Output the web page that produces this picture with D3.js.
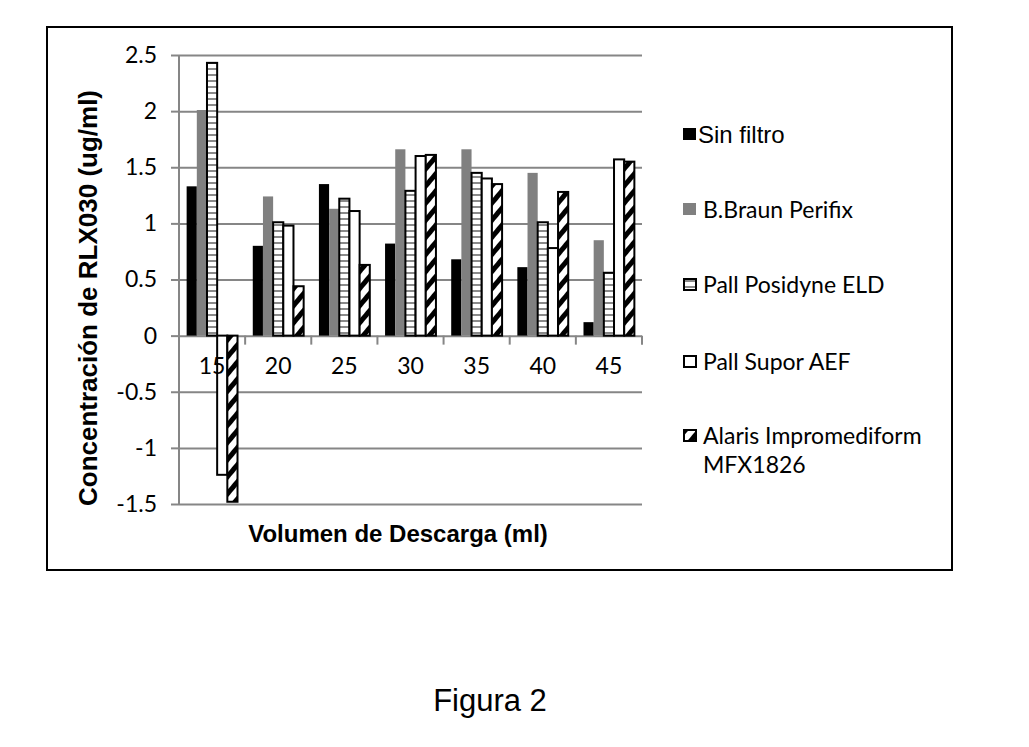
<!DOCTYPE html>
<html>
<head>
<meta charset="utf-8">
<script src="https://cdn.jsdelivr.net/npm/d3@7"></script>
<style>
  body { margin: 0; background: #fff; }
  svg { display: block; }
  .tick text { font-family: Lato, "Open Sans", sans-serif; font-size: 23px; fill: #000; }
  .grid line { stroke: #868686; stroke-width: 2; }
  .grid path { display: none; }
  .y.axis line, .x.ticks line { stroke: #868686; stroke-width: 2; }
  .y.axis path, .x.axis path { display: none; }
  .title { font-family: "Liberation Sans", Arial, sans-serif; font-weight: bold; fill: #000; }
  .legend text { font-family: Lato, "Open Sans", sans-serif; font-size: 23px; fill: #000; }
</style>
</head>
<body>
<svg id="chart" width="1029" height="747"></svg>
<script>
  // data
  const volumes = ['15', '20', '25', '30', '35', '40', '45'];
  const seriesNames = ['Sin filtro', 'B.Braun Perifix', 'Pall Posidyne ELD', 'Pall Supor AEF', 'Alaris Impromediform MFX1826'];
  const sinFiltro = [1.33, 0.80, 1.35, 0.82, 0.68, 0.61, 0.12];
  const bBraun = [2.01, 1.24, 1.13, 1.66, 1.66, 1.45, 0.85];
  const pallPosidyne = [2.43, 1.01, 1.22, 1.29, 1.45, 1.01, 0.56];
  const pallSupor = [-1.24, 0.98, 1.11, 1.60, 1.40, 0.78, 1.57];
  const alaris = [-1.48, 0.44, 0.63, 1.61, 1.35, 1.28, 1.55];
  const yTicks = [2.5, 2, 1.5, 1, 0.5, 0, -0.5, -1, -1.5];

  const values = [sinFiltro, bBraun, pallPosidyne, pallSupor, alaris];
  const svg = d3.select('#chart');

  // patterns
  const defs = svg.append('defs');
  const hp = defs.append('pattern').attr('id', 'hstripe')
      .attr('patternUnits', 'userSpaceOnUse').attr('width', 6).attr('height', 6);
  hp.append('rect').attr('width', 6).attr('height', 6).attr('fill', '#fff');
  hp.append('rect').attr('y', 2).attr('width', 6).attr('height', 2).attr('fill', '#8a8a8a');

  const dp = defs.append('pattern').attr('id', 'dstripe')
      .attr('patternUnits', 'userSpaceOnUse').attr('width', 11).attr('height', 11)
      .attr('patternTransform', 'rotate(40)');
  dp.append('rect').attr('width', 11).attr('height', 11).attr('fill', '#fff');
  dp.append('rect').attr('width', 5).attr('height', 11).attr('fill', '#000');

  const styles = [
    {fill: '#000', stroke: 'none'},
    {fill: '#808080', stroke: 'none'},
    {fill: 'url(#hstripe)', stroke: '#000'},
    {fill: '#fff', stroke: '#000'},
    {fill: 'url(#dstripe)', stroke: '#000'}
  ];

  // outer frame
  svg.append('rect').attr('x', 47).attr('y', 27).attr('width', 905).attr('height', 543)
      .attr('fill', 'none').attr('stroke', '#000').attr('stroke-width', 2);

  const plot = {left: 179, right: 642, top: 55, bottom: 504};

  const x0 = d3.scaleBand().domain(volumes).range([plot.left, plot.right]).padding(0);
  const bw = x0.bandwidth();
  const x1 = d3.scaleBand().domain(d3.range(seriesNames.length))
      .range([bw * 0.75 / 6.5, bw * 5.75 / 6.5]).padding(0);
  const y = d3.scaleLinear().domain([-1.5, 2.5]).range([plot.bottom, plot.top]);

  // gridlines
  svg.append('g').attr('class', 'grid')
      .attr('transform', 'translate(' + plot.left + ',0)')
      .call(d3.axisRight(y).tickValues(yTicks).tickSize(plot.right - plot.left).tickFormat(''));

  // y axis
  svg.append('g').attr('class', 'y axis')
      .attr('transform', 'translate(' + plot.left + ',0)')
      .call(d3.axisLeft(y).tickValues(yTicks).tickSize(8).tickPadding(14).tickFormat(d => String(d)));
  svg.append('line').attr('x1', plot.left).attr('x2', plot.left)
      .attr('y1', plot.top).attr('y2', plot.bottom)
      .attr('stroke', '#868686').attr('stroke-width', 2);

  // x axis tick marks between categories
  const bounds = volumes.map(v => x0(v)).concat([x0.range()[1]]);
  svg.append('g').attr('class', 'x ticks')
      .selectAll('line').data(bounds).join('line')
      .attr('x1', d => d).attr('x2', d => d)
      .attr('y1', y(0)).attr('y2', y(0) + 9);

  // bars
  const groups = svg.append('g').selectAll('g').data(volumes).join('g')
      .attr('transform', d => 'translate(' + x0(d) + ',0)');
  groups.selectAll('rect')
      .data((v, i) => values.map((s, k) => ({k: k, value: s[i]})))
      .join('rect')
      .attr('x', d => x1(d.k))
      .attr('width', x1.bandwidth())
      .attr('y', d => y(Math.max(0, d.value)))
      .attr('height', d => Math.abs(y(d.value) - y(0)))
      .attr('fill', d => styles[d.k].fill)
      .attr('stroke', d => styles[d.k].stroke)
      .attr('stroke-width', 2);

  // x axis labels (drawn over the bars, as in the original)
  svg.append('g').attr('class', 'x axis')
      .attr('transform', 'translate(0,' + y(0) + ')')
      .call(d3.axisBottom(x0).tickSize(0).tickPadding(22));

  // axis titles
  svg.append('text').attr('class', 'title')
      .attr('text-anchor', 'middle')
      .style('font-size', '26px')
      .attr('transform', 'translate(97,298) rotate(-90)')
      .text('Concentración de RLX030 (ug/ml)');
  svg.append('text').attr('class', 'title')
      .attr('text-anchor', 'middle')
      .style('font-size', '24px')
      .attr('x', 398).attr('y', 542)
      .text('Volumen de Descarga (ml)');

  // legend
  const legendY = [128, 203, 278, 355, 429];
  const legend = svg.append('g').attr('class', 'legend');
  const items = legend.selectAll('g').data(seriesNames).join('g')
      .attr('transform', (d, i) => 'translate(683,' + legendY[i] + ')');
  items.append('rect')
      .attr('x', (d, i) => i < 2 ? 0 : 1).attr('y', (d, i) => i < 2 ? 0 : 1)
      .attr('width', (d, i) => i < 2 ? 13 : 12).attr('height', (d, i) => i < 2 ? 12 : 11)
      .attr('fill', (d, i) => styles[i].fill)
      .attr('stroke', (d, i) => styles[i].stroke)
      .attr('stroke-width', 2);
  items.append('text')
      .attr('x', (d, i) => i === 0 ? 15 : 20)
      .attr('y', 15)
      .style('font-family', (d, i) => i === 0 ? '"Liberation Sans", Arial, sans-serif' : null)
      .style('font-size', (d, i) => i === 0 ? '24px' : null)
      .each(function(d) {
        const t = d3.select(this);
        if (d.indexOf('MFX') > 0) {
          t.append('tspan').text('Alaris Impromediform');
          t.append('tspan').attr('x', 20).attr('dy', 29).text('MFX1826');
        } else {
          t.text(d);
        }
      });

  // caption
  svg.append('text')
      .attr('x', 490).attr('y', 711)
      .attr('text-anchor', 'middle')
      .style('font-family', '"Liberation Sans", Arial, sans-serif')
      .style('font-size', '31px')
      .text('Figura 2');
</script>
</body>
</html>
